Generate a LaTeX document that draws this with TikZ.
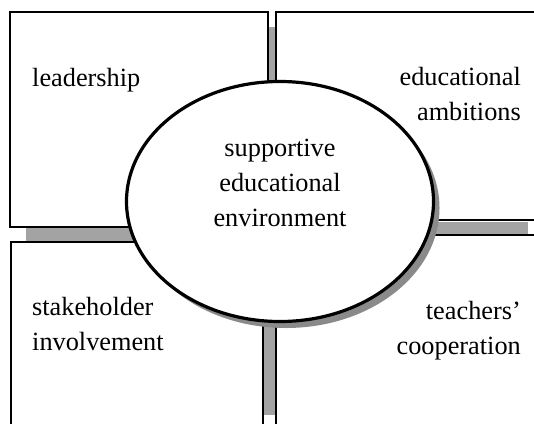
\documentclass[tikz,border=0pt]{standalone}
\usepackage{fontspec}
\setmainfont{Liberation Serif}
\usetikzlibrary{shapes.geometric}
\definecolor{boxshadow}{HTML}{A3A3A3}
\definecolor{ellshadow}{HTML}{8A8A8A}
\begin{document}
\begin{tikzpicture}[x=1pt,y=-1pt,
  box/.style={draw=black, fill=white, line width=1.6pt},
  shade/.style={fill=boxshadow, draw=none},
  lbl/.style={inner sep=0pt, font=\fontsize{26.3}{35}\selectfont},
]
\useasboundingbox (0,0) rectangle (534,423);
% shadows of the boxes
\fill[shade] (26,27) rectangle (284,243);
\fill[shade] (291,222) rectangle (528,234);
\fill[shade] (258,257) rectangle (276,415);
% boxes
\draw[box] (10,12) rectangle (268,227);
\draw[box] (276,12) rectangle (545,220);
\draw[box] (11,242) rectangle (263,440);
\draw[box] (276,235) rectangle (545,440);
% central ellipse with its shadow
\node[ellipse, fill=ellshadow, minimum width=307pt, minimum height=240pt, inner sep=0pt] (es) at (286,208) {};
\node[ellipse, draw=black, fill=white, line width=3.2pt, minimum width=307pt, minimum height=240pt, inner sep=0pt] (env) at (280,201.5) {};
% labels
\node[lbl, anchor=base west] (lead) at (32,86) {leadership};
\node[lbl, anchor=base east, align=right] (amb) at (521,120) {educational\\ambitions};
\node[lbl, anchor=base, align=center] (sup) at (280,226) {supportive\\educational\\environment};
\node[lbl, anchor=base west, align=left] (stake) at (32,350) {stakeholder\\involvement};
\node[lbl, anchor=base east, align=right] (teach) at (521,354) {teachers’\\cooperation};
\end{tikzpicture}
\end{document}
